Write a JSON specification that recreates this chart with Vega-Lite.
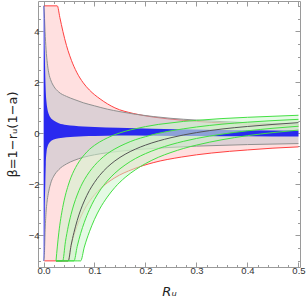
{
  "$schema": "https://vega.github.io/schema/vega-lite/v6.json",
  "width": 262,
  "height": 266,
  "autosize": "none",
  "padding": {"left": 38, "top": 1, "right": 6, "bottom": 32},
  "config": {
    "view": {"stroke": "#9a9a9a", "strokeWidth": 1},
    "axis": {"domain": false, "grid": false, "tickColor": "#9a9a9a", "labelColor": "#333", "labelFont": "Liberation Sans", "labelFontSize": 9.5, "titleFont": "DejaVu Sans", "titleFontWeight": "normal", "titleColor": "#222", "titleFontSize": 13}
  },
  "datasets": {
    "red": [
      {"x": 0.0016, "lo": -5, "hi": 5}, {"x": 0.027, "lo": -5, "hi": 5}, {"x": 0.032, "lo": -5, "hi": 4.55},
      {"x": 0.038, "lo": -5, "hi": 4.0}, {"x": 0.045, "lo": -5, "hi": 3.45}, {"x": 0.048, "lo": -5, "hi": 3.25},
      {"x": 0.055, "lo": -4.33, "hi": 2.85}, {"x": 0.065, "lo": -3.68, "hi": 2.4}, {"x": 0.078, "lo": -3.07, "hi": 1.98},
      {"x": 0.09, "lo": -2.67, "hi": 1.7}, {"x": 0.111, "lo": -2.18, "hi": 1.35}, {"x": 0.14, "lo": -1.74, "hi": 1.0},
      {"x": 0.176, "lo": -1.4, "hi": 0.78}, {"x": 0.215, "lo": -1.15, "hi": 0.64}, {"x": 0.27, "lo": -0.93, "hi": 0.52},
      {"x": 0.33, "lo": -0.77, "hi": 0.43}, {"x": 0.4, "lo": -0.65, "hi": 0.36}, {"x": 0.45, "lo": -0.58, "hi": 0.32},
      {"x": 0.5, "lo": -0.53, "hi": 0.28}
    ],
    "gray": [
      {"x": 0.0008, "lo": -5, "hi": 5}, {"x": 0.002, "lo": -4.6, "hi": 4.5}, {"x": 0.003, "lo": -3.9, "hi": 4.0},
      {"x": 0.005, "lo": -3.1, "hi": 3.3}, {"x": 0.0075, "lo": -2.6, "hi": 2.75}, {"x": 0.01, "lo": -2.3, "hi": 2.4},
      {"x": 0.015, "lo": -1.9, "hi": 2.05}, {"x": 0.02, "lo": -1.68, "hi": 1.85}, {"x": 0.03, "lo": -1.42, "hi": 1.62},
      {"x": 0.045, "lo": -1.2, "hi": 1.45}, {"x": 0.06, "lo": -1.06, "hi": 1.33}, {"x": 0.078, "lo": -0.94, "hi": 1.2},
      {"x": 0.1, "lo": -0.84, "hi": 1.08}, {"x": 0.125, "lo": -0.76, "hi": 0.95}, {"x": 0.15, "lo": -0.7, "hi": 0.85},
      {"x": 0.18, "lo": -0.64, "hi": 0.75}, {"x": 0.215, "lo": -0.59, "hi": 0.66}, {"x": 0.25, "lo": -0.55, "hi": 0.59},
      {"x": 0.3, "lo": -0.5, "hi": 0.52}, {"x": 0.35, "lo": -0.47, "hi": 0.46}, {"x": 0.4, "lo": -0.44, "hi": 0.42},
      {"x": 0.45, "lo": -0.42, "hi": 0.38}, {"x": 0.5, "lo": -0.4, "hi": 0.35}
    ],
    "blue": [
      {"x": 0.0003, "lo": -5, "hi": 5}, {"x": 0.0013, "lo": -5, "hi": 5}, {"x": 0.0025, "lo": -3.0, "hi": 3.2},
      {"x": 0.0035, "lo": -2.0, "hi": 2.2}, {"x": 0.0045, "lo": -1.2, "hi": 1.6}, {"x": 0.006, "lo": -0.72, "hi": 1.2},
      {"x": 0.008, "lo": -0.52, "hi": 0.92}, {"x": 0.0105, "lo": -0.4, "hi": 0.75}, {"x": 0.0127, "lo": -0.34, "hi": 0.65},
      {"x": 0.016, "lo": -0.28, "hi": 0.56}, {"x": 0.02, "lo": -0.24, "hi": 0.5}, {"x": 0.03, "lo": -0.19, "hi": 0.4},
      {"x": 0.045, "lo": -0.15, "hi": 0.33}, {"x": 0.06, "lo": -0.13, "hi": 0.3}, {"x": 0.078, "lo": -0.11, "hi": 0.27},
      {"x": 0.1, "lo": -0.1, "hi": 0.25}, {"x": 0.146, "lo": -0.08, "hi": 0.22}, {"x": 0.215, "lo": -0.09, "hi": 0.18},
      {"x": 0.3, "lo": -0.1, "hi": 0.15}, {"x": 0.4, "lo": -0.11, "hi": 0.12}, {"x": 0.5, "lo": -0.12, "hi": 0.1}
    ],
    "green": [
      {"x": 0.0245, "g1": -5, "g2": -5, "c": -5, "g3": -5, "g4": -5},
      {"x": 0.03, "g1": -3.9, "g2": -5, "c": -5, "g3": -5, "g4": -5},
      {"x": 0.0376, "g1": -2.91, "g2": -5, "c": -5, "g3": -5, "g4": -5},
      {"x": 0.043, "g1": -2.42, "g2": -4.25, "c": -5, "g3": -5, "g4": -5},
      {"x": 0.0486, "g1": -2.03, "g2": -3.64, "c": -5, "g3": -5, "g4": -5},
      {"x": 0.054, "g1": -1.72, "g2": -3.18, "c": -4.4, "g3": -5, "g4": -5},
      {"x": 0.0598, "g1": -1.46, "g2": -2.77, "c": -3.88, "g3": -5, "g4": -5},
      {"x": 0.066, "g1": -1.23, "g2": -2.42, "c": -3.42, "g3": -4.44, "g4": -5},
      {"x": 0.0729, "g1": -1.02, "g2": -2.09, "c": -3.0, "g3": -3.92, "g4": -5},
      {"x": 0.08, "g1": -0.84, "g2": -1.82, "c": -2.65, "g3": -3.49, "g4": -4.46},
      {"x": 0.09, "g1": -0.63, "g2": -1.51, "c": -2.24, "g3": -2.99, "g4": -3.86},
      {"x": 0.1, "g1": -0.47, "g2": -1.26, "c": -1.92, "g3": -2.59, "g4": -3.37},
      {"x": 0.11, "g1": -0.34, "g2": -1.05, "c": -1.65, "g3": -2.26, "g4": -2.97},
      {"x": 0.125, "g1": -0.18, "g2": -0.8, "c": -1.33, "g3": -1.87, "g4": -2.5},
      {"x": 0.14, "g1": -0.05, "g2": -0.61, "c": -1.08, "g3": -1.56, "g4": -2.12},
      {"x": 0.16, "g1": 0.08, "g2": -0.41, "c": -0.82, "g3": -1.24, "g4": -1.73},
      {"x": 0.18, "g1": 0.18, "g2": -0.25, "c": -0.62, "g3": -0.99, "g4": -1.43},
      {"x": 0.2, "g1": 0.265, "g2": -0.13, "c": -0.46, "g3": -0.795, "g4": -1.185},
      {"x": 0.225, "g1": 0.35, "g2": 0.0, "c": -0.3, "g3": -0.6, "g4": -0.94},
      {"x": 0.25, "g1": 0.41, "g2": 0.1, "c": -0.17, "g3": -0.44, "g4": -0.75},
      {"x": 0.275, "g1": 0.47, "g2": 0.18, "c": -0.06, "g3": -0.31, "g4": -0.59},
      {"x": 0.3, "g1": 0.51, "g2": 0.25, "c": 0.03, "g3": -0.2, "g4": -0.46},
      {"x": 0.35, "g1": 0.58, "g2": 0.36, "c": 0.17, "g3": -0.03, "g4": -0.25},
      {"x": 0.4, "g1": 0.63, "g2": 0.44, "c": 0.27, "g3": 0.1, "g4": -0.09},
      {"x": 0.45, "g1": 0.67, "g2": 0.5, "c": 0.35, "g3": 0.2, "g4": 0.03},
      {"x": 0.5, "g1": 0.71, "g2": 0.55, "c": 0.42, "g3": 0.28, "g4": 0.13}
    ]
  },
  "resolve": {"axis": {"x": "independent", "y": "independent"}},
  "layer": [
    {
      "data": {"name": "red"},
      "mark": {"type": "area", "interpolate": "monotone", "color": "#ff0000", "opacity": 0.12},
      "encoding": {
        "x": {"field": "x", "type": "quantitative", "scale": {"domain": [-0.0108, 0.503], "nice": false, "zero": false},
          "axis": {"orient": "bottom", "title": "Rᵤ", "titleFontStyle": "italic", "titlePadding": 11,
            "values": [0,0.02,0.04,0.06,0.08,0.1,0.12,0.14,0.16,0.18,0.2,0.22,0.24,0.26,0.28,0.3,0.32,0.34,0.36,0.38,0.4,0.42,0.44,0.46,0.48,0.5],
            "labelExpr": "abs(datum.value*10 - round(datum.value*10)) < 0.000001 ? format(datum.value, '.1f') : ''",
            "tickSize": {"condition": {"test": "abs(datum.value*10 - round(datum.value*10)) < 0.000001", "value": -5}, "value": -2.5},
            "labelPadding": 3, "labelFlush": false}},
        "y": {"field": "hi", "type": "quantitative", "scale": {"domain": [-5.24, 5.19], "nice": false, "zero": false},
          "axis": {"orient": "left", "title": "β=1−rᵤ(1−a)", "titlePadding": 9,
            "values": [-5,-4.5,-4,-3.5,-3,-2.5,-2,-1.5,-1,-0.5,0,0.5,1,1.5,2,2.5,3,3.5,4,4.5,5],
            "labelExpr": "datum.value % 2 == 0 ? format(datum.value, 'd') : ''",
            "tickSize": {"condition": {"test": "datum.value % 2 == 0", "value": -5}, "value": -2.5},
            "labelPadding": 4}},
        "y2": {"field": "lo"}
      }
    },
    {
      "data": {"name": "red"},
      "mark": {"type": "line", "interpolate": "monotone", "color": "#ff4040", "strokeWidth": 1},
      "encoding": {"x": {"field": "x", "type": "quantitative", "axis": null}, "y": {"field": "hi", "type": "quantitative", "axis": null}}
    },
    {
      "data": {"name": "red"},
      "mark": {"type": "line", "interpolate": "monotone", "color": "#ff4040", "strokeWidth": 1},
      "encoding": {"x": {"field": "x", "type": "quantitative", "axis": null}, "y": {"field": "lo", "type": "quantitative", "axis": null}}
    },
    {
      "data": {"name": "gray"},
      "mark": {"type": "area", "interpolate": "monotone", "color": "#b4bcc8", "opacity": 0.45},
      "encoding": {
        "x": {"field": "x", "type": "quantitative",
          "axis": {"orient": "top", "title": null, "labels": false,
            "values": [0,0.02,0.04,0.06,0.08,0.1,0.12,0.14,0.16,0.18,0.2,0.22,0.24,0.26,0.28,0.3,0.32,0.34,0.36,0.38,0.4,0.42,0.44,0.46,0.48,0.5],
            "tickSize": {"condition": {"test": "abs(datum.value*10 - round(datum.value*10)) < 0.000001", "value": -5}, "value": -2.5}}},
        "y": {"field": "hi", "type": "quantitative",
          "axis": {"orient": "right", "title": null, "labels": false,
            "values": [-5,-4.5,-4,-3.5,-3,-2.5,-2,-1.5,-1,-0.5,0,0.5,1,1.5,2,2.5,3,3.5,4,4.5,5],
            "tickSize": {"condition": {"test": "datum.value % 2 == 0", "value": -5}, "value": -2.5}}},
        "y2": {"field": "lo"}
      }
    },
    {
      "data": {"name": "gray"},
      "mark": {"type": "line", "interpolate": "monotone", "color": "#909090", "strokeWidth": 1},
      "encoding": {"x": {"field": "x", "type": "quantitative", "axis": null}, "y": {"field": "hi", "type": "quantitative", "axis": null}}
    },
    {
      "data": {"name": "gray"},
      "mark": {"type": "line", "interpolate": "monotone", "color": "#909090", "strokeWidth": 1},
      "encoding": {"x": {"field": "x", "type": "quantitative", "axis": null}, "y": {"field": "lo", "type": "quantitative", "axis": null}}
    },
    {
      "data": {"name": "green"},
      "mark": {"type": "area", "interpolate": "monotone", "color": "#ccf5cc", "opacity": 0.5},
      "encoding": {"x": {"field": "x", "type": "quantitative", "axis": null}, "y": {"field": "g1", "type": "quantitative", "axis": null}, "y2": {"field": "g4"}}
    },
    {
      "data": {"name": "blue"},
      "mark": {"type": "area", "interpolate": "monotone", "color": "#2020f0", "opacity": 0.95},
      "encoding": {"x": {"field": "x", "type": "quantitative", "axis": null}, "y": {"field": "hi", "type": "quantitative", "axis": null}, "y2": {"field": "lo"}}
    },
    {
      "data": {"name": "green"},
      "mark": {"type": "area", "interpolate": "monotone", "color": "#d0f2c8", "opacity": 0.6},
      "encoding": {"x": {"field": "x", "type": "quantitative", "axis": null}, "y": {"field": "g2", "type": "quantitative", "axis": null}, "y2": {"field": "g3"}}
    },
    {
      "data": {"name": "green"},
      "mark": {"type": "line", "interpolate": "monotone", "color": "#44e044", "strokeWidth": 1},
      "encoding": {"x": {"field": "x", "type": "quantitative", "axis": null}, "y": {"field": "g1", "type": "quantitative", "axis": null}}
    },
    {
      "data": {"name": "green"},
      "mark": {"type": "line", "interpolate": "monotone", "color": "#44e044", "strokeWidth": 1},
      "encoding": {"x": {"field": "x", "type": "quantitative", "axis": null}, "y": {"field": "g2", "type": "quantitative", "axis": null}}
    },
    {
      "data": {"name": "green"},
      "mark": {"type": "line", "interpolate": "monotone", "color": "#555555", "strokeWidth": 1},
      "encoding": {"x": {"field": "x", "type": "quantitative", "axis": null}, "y": {"field": "c", "type": "quantitative", "axis": null}}
    },
    {
      "data": {"name": "green"},
      "mark": {"type": "line", "interpolate": "monotone", "color": "#44e044", "strokeWidth": 1},
      "encoding": {"x": {"field": "x", "type": "quantitative", "axis": null}, "y": {"field": "g3", "type": "quantitative", "axis": null}}
    },
    {
      "data": {"name": "green"},
      "mark": {"type": "line", "interpolate": "monotone", "color": "#44e044", "strokeWidth": 1},
      "encoding": {"x": {"field": "x", "type": "quantitative", "axis": null}, "y": {"field": "g4", "type": "quantitative", "axis": null}}
    }
  ]
}
